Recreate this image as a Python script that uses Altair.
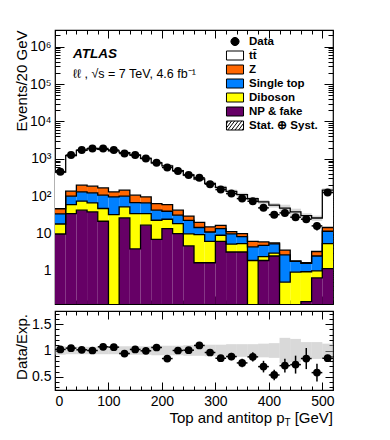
import altair as alt
import pandas as pd

# ---------------- data ----------------
bin_low = [0, 20, 40, 60, 80, 100, 120, 140, 160, 180, 200, 220, 240,
           260, 280, 300, 320, 340, 360, 380, 400, 420, 440, 460, 480, 500]
bin_high = [20, 40, 60, 80, 100, 120, 140, 160, 180, 200, 220, 240, 260,
            280, 300, 320, 340, 360, 380, 400, 420, 440, 460, 480, 500, 520]

data_obs = [448, 1257, 1710, 1890, 1890, 1710, 1388, 1257, 1018, 782, 585, 468, 366,
            310, 210, 150, 117, 86, 73, 48.6, 32, 35.6, 27.4, 24.2, 16, 125]
data_err = [21, 35, 41, 43, 43, 41, 37, 35, 32, 28, 24, 22, 19,
            18, 14.5, 12.2, 10.8, 9.3, 8.5, 7.0, 5.7, 6.0, 5.2, 4.9, 4.0, 11.2]

ttbar = [394, 1074, 1493, 1695, 1613, 1490, 1325, 1144, 934, 717, 590, 438, 339,
         268, 205, 155, 123, 100, 79, 64, 52, 44, 36, 28.4, 22.7, 131]
z_jets = [12.5, 36.2, 67, 62, 61, 34.3, 45.2, 38.5, 29.6, 21.4, 20.2, 11.2, 6.8,
          5.5, 4.0, 2.9, 1.5, 1.7, 1.8, 1.2, 0.3, 0.9, 0.05, 0.05, 0.8, 3.0]
single_top = [15.5, 40.1, 56.7, 56.9, 59.3, 63.5, 48.1, 33.2, 31.8, 19.4, 15.4, 12.4, 12.7,
              5.1, 4.8, 4.6, 4.6, 2.9, 2.5, 2.4, 2.3, 2.2, 0.87, 0.65, 1.5, 6.1]
diboson = [8.3, 25.4, 31.2, 28.2, 25.4, 32.2, 25.5, 30.4, 17.6, 15.7, 10.5, 8.5, 5.15,
           7.75, 4.55, 2.8, 2.0, 2.2, 1.9, 0.5, 0.5, 0.5, 0.93, 0.8, 0.35, 4.25]
np_fake = [9.7, 34.3, 42.1, 37.9, 21.3, 0, 26.2, 3.9, 16.7, 7.0, 13.6, 10.0, 4.65,
           1.65, 1.65, 6.2, 3.2, 3.2, 0, 1.9, 2.5, 0, 0, 0.15, 0.65, 1.15]

syst_rel = [0.08, 0.07, 0.07, 0.07, 0.07, 0.07, 0.08, 0.08, 0.08, 0.09, 0.09, 0.09, 0.10,
            0.10, 0.11, 0.11, 0.12, 0.12, 0.12, 0.13, 0.14, 0.24, 0.22, 0.16, 0.16, 0.13]

ratio = [1.02, 1.045, 1.013, 1.0, 1.07, 1.064, 0.943, 1.02, 0.994, 1.057, 0.847, 1.0, 1.006,
         1.096, 0.962, 0.853, 0.885, 0.764, 0.879, 0.694, 0.535, 0.713, 0.732, 0.847, 0.58, 0.853]
ratio_err = [0.02, 0.02, 0.02, 0.02, 0.02, 0.02, 0.02, 0.02, 0.025, 0.03, 0.03, 0.035, 0.04,
             0.045, 0.05, 0.06, 0.07, 0.08, 0.09, 0.11, 0.10, 0.13, 0.17, 0.20, 0.17, 0.065]

comp_names = ["NP & fake", "Diboson", "Single top", "Z", "tt\u0304"]
comp_colors = ["#660066", "#ffff00", "#0080ff", "#ff6600", "#ffffff"]
comp_values = [np_fake, diboson, single_top, z_jets, ttbar]

legend_labels = ["Data", "tt\u0304", "Z", "Single top", "Diboson", "NP & fake", "Stat. \u2295 Syst."]
legend_fills = ["#000000", "#ffffff", "#ff6600", "#0080ff", "#ffff00", "#660066", "#ffffff"]

# legend symbol paths (symbol size 144 -> unit = 6 px)
RECT = "M-1.42,-0.75H1.42V0.75H-1.42Z"
CIRC = "M-0.68,0A0.68,0.68,0,1,1,0.68,0A0.68,0.68,0,1,1,-0.68,0Z"
HATCH = (RECT + "M-1.42,-0.25L-1.17,-0.75M-1.42,0.4L-0.57,-0.75"
         "M-1.2,0.75L-0.05,-0.75M-0.6,0.75L0.55,-0.75M0,0.75L1.15,-0.75"
         "M0.6,0.75L1.42,-0.35M1.2,0.75L1.42,0.45")
legend_shapes = [CIRC, RECT, RECT, RECT, RECT, RECT, HATCH]

# ---------------- tables ----------------
FONT = "Liberation Sans"
YMIN, YMAX = 0.13, 2.8e6
FLOOR = 1e-3
stack_rows, line_rows = [], []
mc_total = []
cums = [[0.0] * len(bin_low) for _ in comp_names]
for i in range(len(bin_low)):
    cum = 0.0
    for k, (name, col, vals) in enumerate(zip(comp_names, comp_colors, comp_values)):
        v = vals[i]
        if v > 0:
            stack_rows.append({"lo": bin_low[i], "hi": bin_high[i],
                               "bot": max(cum, FLOOR), "top": cum + v, "col": col})
        cum += v
        cums[k][i] = cum
    mc_total.append(cum)
for k, name in enumerate(comp_names):
    for i in range(len(bin_low)):
        line_rows.append({"comp": name, "x": bin_low[i], "y": max(cums[k][i], FLOOR)})
    line_rows.append({"comp": name, "x": bin_high[-1], "y": max(cums[k][-1], FLOOR)})
stack_df = pd.DataFrame(stack_rows)
line_df = pd.DataFrame(line_rows)

main_df = pd.DataFrame({
    "lo": bin_low, "hi": bin_high,
    "c": [(a + b) / 2 for a, b in zip(bin_low, bin_high)],
    "data": data_obs,
    "dlo": [d - e for d, e in zip(data_obs, data_err)],
    "dhi": [d + e for d, e in zip(data_obs, data_err)],
    "blo": [t * (1 - s) for t, s in zip(mc_total, syst_rel)],
    "bhi": [t * (1 + s) for t, s in zip(mc_total, syst_rel)],
    "r": ratio,
    "rlo": [r - e for r, e in zip(ratio, ratio_err)],
    "rhi": [r + e for r, e in zip(ratio, ratio_err)],
    "slo": [1 - s for s in syst_rel],
    "shi": [1 + s for s in syst_rel],
})

# ---------------- axes / ticks ----------------
W, H1, H2 = 278, 274, 79
xscale = alt.Scale(domain=[0, 520], nice=False, zero=False)
yscale = alt.Scale(type="log", domain=[YMIN, YMAX], nice=False)
rscale = alt.Scale(domain=[0.25, 1.75], nice=False, zero=False)

x_ticks = list(range(0, 521, 20))
x_tick_size = {"condition": {"test": "datum.value % 100 == 0", "value": -8}, "value": -4}
y_ticks = [float(f"{m}e{k}") for k in range(-1, 7) for m in range(1, 10)
           if YMIN <= float(f"{m}e{k}") <= YMAX]
y_major_test = "abs(log(datum.value)/LN10 - round(log(datum.value)/LN10)) < 1e-6"
y_tick_size = {"condition": {"test": y_major_test, "value": -9}, "value": -5}
y_label_expr = ("datum.value == 1 ? '1' : datum.value == 10 ? '10' : "
                "datum.value == 100 ? '10\u00b2' : datum.value == 1000 ? '10\u00b3' : "
                "datum.value == 10000 ? '10\u2074' : datum.value == 100000 ? '10\u2075' : "
                "datum.value == 1000000 ? '10\u2076' : ''")
r_ticks = [round(0.3 + 0.1 * k, 1) for k in range(15)]
r_major_test = "abs(datum.value*2 - round(datum.value*2)) < 1e-6"
r_tick_size = {"condition": {"test": r_major_test, "value": -8}, "value": -4}
r_label_expr = ("abs(datum.value-0.5)<1e-6 ? '0.5' : abs(datum.value-1)<1e-6 ? '1' : "
                "abs(datum.value-1.5)<1e-6 ? '1.5' : ''")


def xaxis(orient, labels=False):
    return alt.Axis(orient=orient, values=x_ticks, tickSize=x_tick_size, labels=labels,
                    labelExpr="datum.value % 100 == 0 ? '' + datum.value : ''",
                    labelPadding=12, labelFontSize=14, title=None, domain=False, grid=False)


BAND_FILL = "#b4b4b4"

# ---------------- main panel ----------------
base = alt.Chart(main_df)

stack = alt.Chart(stack_df).mark_rect(strokeWidth=0, clip=True).encode(
    x=alt.X("lo:Q", scale=xscale, axis=xaxis("bottom")),
    x2="hi:Q",
    y=alt.Y("top:Q", scale=yscale, axis=alt.Axis(
        orient="left", values=y_ticks, tickSize=y_tick_size, labelExpr=y_label_expr,
        labelPadding=13, labelFontSize=14, title="Events/20 GeV", titleFontSize=15,
        titleFontWeight="normal", titleAngle=270, titleAlign="right", titleBaseline="alphabetic",
        titleX=-29, titleY=0, domain=False, grid=False)),
    y2="bot:Q",
    color=alt.Color("col:N", scale=None, legend=None),
)

band = base.mark_rect(fill=BAND_FILL, opacity=0.5, clip=True).encode(
    x=alt.X("lo:Q", scale=xscale, axis=xaxis("top")),
    x2="hi:Q",
    y=alt.Y("bhi:Q", scale=yscale, axis=alt.Axis(
        orient="right", values=y_ticks, tickSize=y_tick_size, labels=False,
        title=None, domain=False, grid=False)),
    y2="blo:Q",
)

steps = alt.Chart(line_df).mark_line(interpolate="step-after", color="black",
                                     strokeWidth=1.3, clip=True).encode(
    x=alt.X("x:Q", scale=xscale, axis=None),
    y=alt.Y("y:Q", scale=yscale, axis=None),
    detail="comp:N",
)

verr = base.mark_rule(color="black", strokeWidth=1.5, clip=True).encode(
    x=alt.X("c:Q", scale=xscale, axis=None),
    y=alt.Y("dhi:Q", scale=yscale, axis=None), y2="dlo:Q")
herr = base.mark_rule(color="black", strokeWidth=1.5, clip=True).encode(
    x=alt.X("lo:Q", scale=xscale, axis=None), x2="hi:Q",
    y=alt.Y("data:Q", scale=yscale, axis=None))
pts = base.mark_point(shape="circle", filled=True, size=64, color="black", opacity=1).encode(
    x=alt.X("c:Q", scale=xscale, axis=None),
    y=alt.Y("data:Q", scale=yscale, axis=None))

leg_df = pd.DataFrame({"label": legend_labels, "x": [-1000] * 7, "y": [1e-6] * 7})
leg_props = dict(title=None, orient="none", legendX=173.5, legendY=5,
                 labelFont=FONT, labelFontSize=11.5, labelFontWeight="bold", labelColor="black",
                 symbolStrokeWidth=1, symbolSize=144, rowPadding=1, labelOffset=7.5)
legend_layer = alt.Chart(leg_df).mark_point(filled=True, size=144, strokeWidth=1,
                                            clip=True, opacity=1).encode(
    x=alt.X("x:Q", scale=xscale, axis=None),
    y=alt.Y("y:Q", scale=yscale, axis=None),
    fill=alt.Fill("label:N", scale=alt.Scale(domain=legend_labels, range=legend_fills),
                  legend=alt.Legend(**leg_props)),
    shape=alt.Shape("label:N", scale=alt.Scale(domain=legend_labels, range=legend_shapes),
                    legend=alt.Legend(**leg_props)),
    stroke=alt.Stroke("label:N", scale=alt.Scale(domain=legend_labels, range=["#000000"] * 7),
                      legend=alt.Legend(**leg_props)),
)

atlas = alt.Chart(pd.DataFrame({"t": ["ATLAS"]})).mark_text(
    align="left", baseline="middle", font=FONT, fontSize=13.5, fontWeight="bold",
    fontStyle="italic", color="black").encode(
    x=alt.value(18), y=alt.value(24), text="t:N")
info = alt.Chart(pd.DataFrame({"t": ["\u2113\u2113 , \u221as = 7 TeV, 4.6 fb\u207b\u00b9"]})).mark_text(
    align="left", baseline="middle", font=FONT, fontSize=12.5, color="black").encode(
    x=alt.value(18), y=alt.value(43.5), text="t:N")

main = alt.layer(stack, band, steps, verr, herr, pts, legend_layer, atlas, info).resolve_axis(
    x="independent", y="independent").properties(width=W, height=H1)

# ---------------- ratio panel ----------------
rband = base.mark_rect(fill=BAND_FILL, opacity=0.5, clip=True).encode(
    x=alt.X("lo:Q", scale=xscale, axis=xaxis("bottom", labels=True)),
    x2="hi:Q",
    y=alt.Y("shi:Q", scale=rscale, axis=alt.Axis(
        orient="left", values=r_ticks, tickSize=r_tick_size, labelExpr=r_label_expr,
        labelPadding=12, labelFontSize=14, title="Data/Exp.", titleFontSize=15,
        titleFontWeight="normal", titleAngle=270, titleAlign="center", titleBaseline="alphabetic",
        titleX=-29, titleY=H2 / 2 - 4, domain=False, grid=False)),
    y2="slo:Q",
)
rverr = base.mark_rule(color="black", strokeWidth=1.5, clip=True).encode(
    x=alt.X("c:Q", scale=xscale, axis=xaxis("top")),
    y=alt.Y("rhi:Q", scale=rscale, axis=alt.Axis(
        orient="right", values=r_ticks, tickSize=r_tick_size, labels=False,
        title=None, domain=False, grid=False)),
    y2="rlo:Q")
rherr = base.mark_rule(color="black", strokeWidth=1.5, clip=True).encode(
    x=alt.X("lo:Q", scale=xscale, axis=None), x2="hi:Q",
    y=alt.Y("r:Q", scale=rscale, axis=None))
rpts = base.mark_point(shape="circle", filled=True, size=60, color="black", opacity=1).encode(
    x=alt.X("c:Q", scale=xscale, axis=None),
    y=alt.Y("r:Q", scale=rscale, axis=None))

xt_y = H2 + 33
xt1 = alt.Chart(pd.DataFrame({"t": ["Top and antitop p"]})).mark_text(
    align="right", baseline="alphabetic", font=FONT, fontSize=15, color="black").encode(
    x=alt.value(229.5), y=alt.value(xt_y), text="t:N")
xt2 = alt.Chart(pd.DataFrame({"t": ["T"]})).mark_text(
    align="right", baseline="alphabetic", font=FONT, fontSize=10, color="black").encode(
    x=alt.value(235.6), y=alt.value(xt_y + 3), text="t:N")
xt3 = alt.Chart(pd.DataFrame({"t": ["[GeV]"]})).mark_text(
    align="right", baseline="alphabetic", font=FONT, fontSize=15, color="black").encode(
    x=alt.value(W), y=alt.value(xt_y), text="t:N")

ratio_panel = alt.layer(rband, rverr, rherr, rpts, xt1, xt2, xt3).resolve_axis(
    x="independent", y="independent").properties(width=W, height=H2)

chart = alt.vconcat(main, ratio_panel, spacing=3).properties(
    padding={"left": 5, "top": 20, "right": 5, "bottom": 5}
).configure(font=FONT).configure_view(stroke="black", strokeWidth=1.2).configure_axis(
    labelFont=FONT, titleFont=FONT, labelColor="black", titleColor="black",
    tickColor="black", tickWidth=1)

chart.save("out.html", embed_options={"renderer": "svg", "actions": False})
